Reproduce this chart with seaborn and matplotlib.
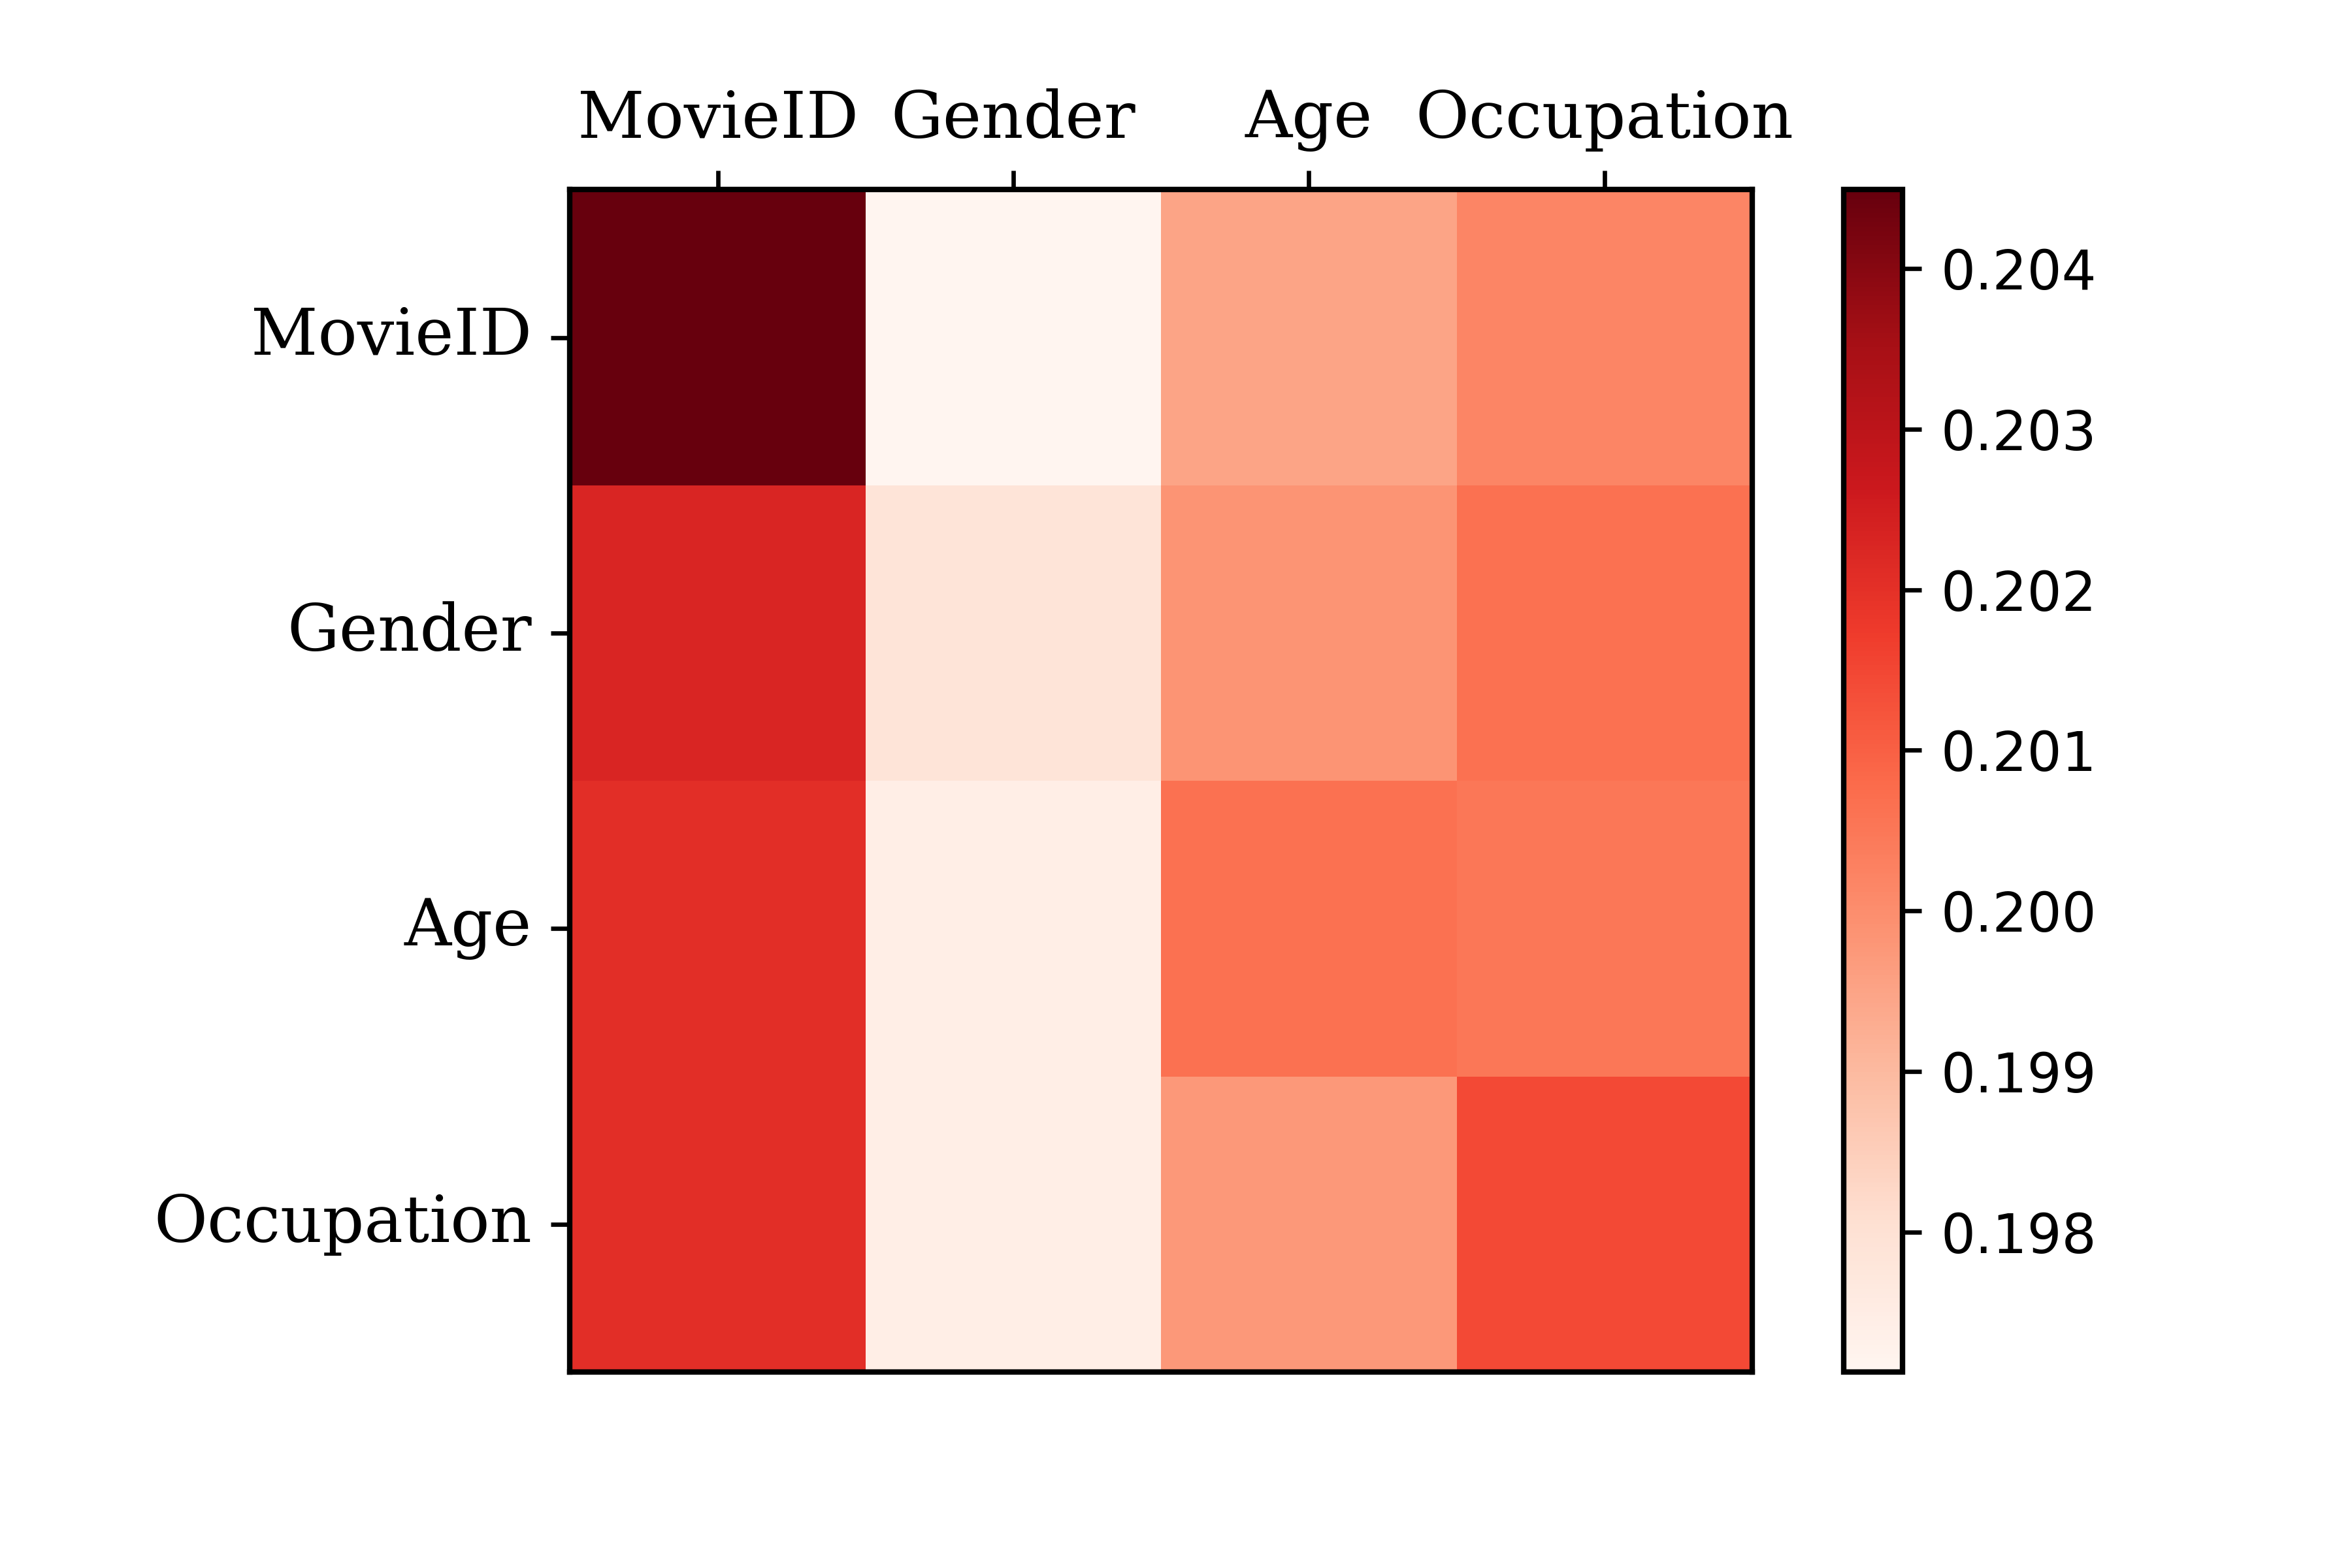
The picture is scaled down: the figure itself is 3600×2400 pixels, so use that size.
import numpy as np
import pandas as pd
import matplotlib
matplotlib.use("Agg")
import matplotlib.pyplot as plt
import seaborn as sns

features = ['MovieID', 'Gender', 'Age', 'Occupation']

# linhas = query, colunas = key
movieid_row = [0.20449, 0.19713, 0.19950, 0.20020]
gender_row = [0.20230, 0.19790, 0.19985, 0.20065]
age_row = [0.20205, 0.19745, 0.20065, 0.20050]
occupation_row = [0.20205, 0.19745, 0.19975, 0.20145]

df = pd.DataFrame(
    [movieid_row, gender_row, age_row, occupation_row],
    index=features,
    columns=features
)

fig, ax = plt.subplots(figsize=(6, 4), dpi=600)
fig.subplots_adjust(bottom=0.125, top=0.879)

sns.heatmap(df, cmap='Reds', square=True, ax=ax)

# volta com bordas e ticks no topo
ax.xaxis.tick_top()
for sp in ax.spines.values():
    sp.set_visible(True)
    sp.set_linewidth(1.0)
cbar = ax.collections[0].colorbar
cbar.outline.set_visible(True)
cbar.outline.set_linewidth(1.0)
cbar.set_ticks([0.198, 0.199, 0.200, 0.201, 0.202, 0.203, 0.204])
cbar.ax.yaxis.set_major_formatter(matplotlib.ticker.FormatStrFormatter('%.3f'))
cbar.ax.tick_params(labelsize=10)

ax.set_xticklabels(features, family='serif', fontsize=12, rotation=0)
ax.set_yticklabels(features, family='serif', fontsize=12, rotation=0)
ax.tick_params(axis='both', length=3.5, width=0.8)

plt.savefig('out.png', dpi=600)
